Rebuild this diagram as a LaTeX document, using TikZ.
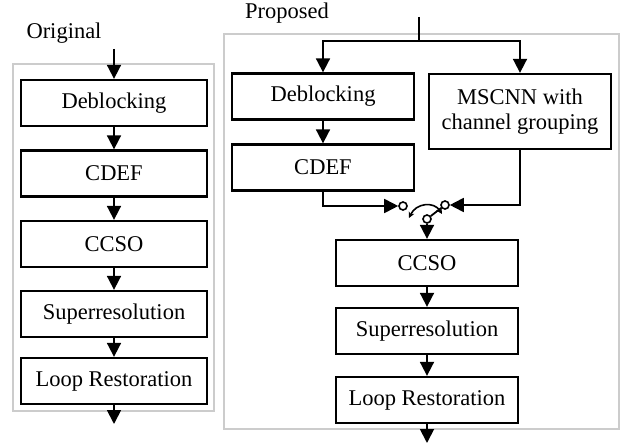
\documentclass[tikz,border=0pt]{standalone}
\usepackage{fontspec}
\setmainfont{Liberation Serif}
\usetikzlibrary{arrows.meta}
\begin{document}
\begin{tikzpicture}[x=1pt,y=-1pt,
  box/.style={draw,line width=2.3pt,minimum height=46pt,inner sep=0pt,
    font=\fontsize{22.5}{25}\selectfont,align=center},
  lbox/.style={box,minimum width=186pt},
  rbox/.style={box,minimum width=182pt},
  frame/.style={draw=black!20,line width=2pt},
  conn/.style={line width=1.8pt},
  arr/.style={conn,-{Triangle[width=14pt,length=14pt]}},
  port/.style={circle,draw,line width=1.6pt,minimum size=8pt,inner sep=0pt,fill=white},
  lbl/.style={font=\fontsize{22.5}{25}\selectfont,inner sep=0pt},
  tip/.style={line width=1.6pt,{Stealth[length=6pt,width=6pt]}-{Stealth[length=6pt,width=6pt]}}]
\useasboundingbox (0,0) rectangle (623,444);
% frames
\draw[frame] (13,64) rectangle (214,411);
\draw[frame] (224,34) rectangle (619,429);
% labels
\node[lbl] (orig) at (64,33) {Original};
\node[lbl] (prop) at (287,13) {Proposed};
% left column
\node[lbox] (ld) at (114,103) {Deblocking};
\node[lbox] (lc) at (114,173.5) {CDEF};
\node[lbox] (lo) at (114,244) {CCSO};
\node[lbox] (ls) at (114,314) {Superresolution};
\node[lbox] (ll) at (114,381) {Loop Restoration};
\coordinate (lin) at (114,49);
\coordinate (lout) at (114,424);
\draw[arr] (lin) -- (ld.north);
\draw[arr] (ld.south) -- (lc.north);
\draw[arr] (lc.south) -- (lo.north);
\draw[arr] (lo.south) -- (ls.north);
\draw[arr] (ls.south) -- (ll.north);
\draw[arr] (ll.south) -- (lout);
% right column
\node[rbox] (rd) at (323,96.5) {Deblocking};
\node[rbox] (rc) at (323,167.5) {CDEF};
\node[rbox,minimum height=75pt] (ms) at (520,111.5) {MSCNN with\\channel grouping};
\node[rbox] (ro) at (427,263) {CCSO};
\node[rbox] (rs) at (427,331) {Superresolution};
\node[rbox] (rl) at (427,400) {Loop Restoration};
\coordinate (rin) at (419,17);
\coordinate (rsplit) at (419,41);
\coordinate (rout) at (427,443);
\draw[conn] (rin) -- (rsplit);
\draw[arr] (rsplit) -| (rd.north);
\draw[arr] (rsplit) -| (ms.north);
\draw[arr] (rd.south) -- (rc.north);
% switch
\node[port] (sa) at (403,206) {};
\node[port] (sb) at (445,205) {};
\node[port] (sc) at (427,219) {};
\draw[arr] (rc.south) |- (sa.west);
\draw[arr] (ms.south) |- (sb.east);
\draw[conn] (sc) -- (sb);
\draw[tip] (409,218) .. controls (416,203) and (434,201) .. (442,214);
\draw[arr] (sc) -- (ro.north);
\draw[arr] (ro.south) -- (rs.north);
\draw[arr] (rs.south) -- (rl.north);
\draw[arr] (rl.south) -- (rout);
\end{tikzpicture}
\end{document}
